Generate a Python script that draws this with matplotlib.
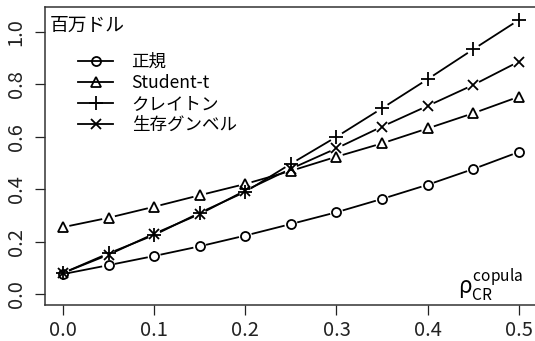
import numpy as np
import matplotlib
matplotlib.use("Agg")
import matplotlib.pyplot as plt
from matplotlib.lines import Line2D

plt.rcParams['font.family'] = ['Noto Sans CJK JP', 'DejaVu Sans']
plt.rcParams['mathtext.fontset'] = 'custom'
plt.rcParams['mathtext.rm'] = 'Noto Sans CJK JP'
plt.rcParams['mathtext.it'] = 'Noto Sans CJK JP'

rho = [0.0, 0.05, 0.1, 0.15, 0.2, 0.25, 0.3, 0.35, 0.4, 0.45, 0.5]
normal = [0.076, 0.110, 0.145, 0.182, 0.223, 0.267, 0.312, 0.363, 0.417, 0.477, 0.542]
student_t = [0.255, 0.291, 0.333, 0.377, 0.420, 0.470, 0.524, 0.575, 0.632, 0.690, 0.753]
clayton = [0.080, 0.155, 0.225, 0.310, 0.390, 0.497, 0.600, 0.709, 0.820, 0.934, 1.046]
gumbel = [0.080, 0.150, 0.230, 0.305, 0.395, 0.478, 0.556, 0.639, 0.718, 0.798, 0.887]
labels = ["正規", "Student-t", "クレイトン", "生存グンベル"]
xticks = [0.0, 0.1, 0.2, 0.3, 0.4, 0.5]
yticks = [0.0, 0.2, 0.4, 0.6, 0.8, 1.0]
unit_label = "百万ドル"

W, H = 535, 341
fig = plt.figure(figsize=(W / 100, H / 100), dpi=100)
AX_L, AX_R, AX_T, AX_B = 45, 540, 7, 305
ax = fig.add_axes([AX_L / W, 1 - AX_B / H, (AX_R - AX_L) / W, (AX_B - AX_T) / H])
ax.set_xlim(-0.0197, 0.5232)
ax.set_ylim(-0.042, 1.0955)

for s in ['left', 'bottom', 'top']:
    ax.spines[s].set_linewidth(1.1)
    ax.spines[s].set_color('#333333')
ax.spines['right'].set_visible(False)

ax.set_xticks(xticks)
ax.set_xticklabels([f"{v:.1f}" for v in xticks])
ax.set_yticks(yticks)
ax.set_yticklabels([f"{v:.1f}" for v in yticks], rotation=90, va='center')
ax.tick_params(axis='x', direction='out', length=7, width=0.9, pad=4, labelsize=14.5, colors='#222222')
ax.tick_params(axis='y', direction='out', length=7.2, width=0.9, pad=6, labelsize=14.5, colors='#222222')

styles = [
    dict(marker='o', ms=6.5, mfc='none'),
    dict(marker='^', ms=7.5, mfc='none'),
    dict(marker='+', ms=10),
    dict(marker='x', ms=6.5),
]
series = [normal, student_t, clayton, gumbel]

def gapped(x, y, gap_px, **kw):
    pts = ax.transData.transform(np.column_stack([x, y]))
    inv = ax.transData.inverted()
    for p0, p1 in zip(pts[:-1], pts[1:]):
        d = p1 - p0
        L = np.hypot(*d)
        if L <= 2 * gap_px:
            continue
        u = d / L
        a = inv.transform(p0 + u * gap_px)
        b = inv.transform(p1 - u * gap_px)
        ax.plot([a[0], b[0]], [a[1], b[1]], **kw)

handles = []
for ys, st, lab in zip(series, styles, labels):
    gapped(rho, ys, 6.5, color='black', lw=1.3, solid_capstyle='butt')
    ax.plot(rho, ys, linestyle='none', color='black', mec='black', mew=1.3, **st)
    handles.append(Line2D([], [], color='black', lw=1.3, mec='black', mew=1.3, **st))

leg = ax.legend(handles, labels, loc='upper left', bbox_to_anchor=(0.067, 0.846),
                frameon=False, fontsize=12.6, handlelength=2.0, handletextpad=1.05,
                labelspacing=0.17, borderaxespad=0, borderpad=0)

ax.text((50 - AX_L) / (AX_R - AX_L), 0.94, unit_label,
        transform=ax.transAxes, fontsize=13.5, ha='left', va='center')

ax.text(0.433, -0.036, r"$\rho_{\mathrm{CR}}^{\mathrm{copula}}$", fontsize=16,
        ha='left', va='bottom')

fig.savefig("out.png", dpi=100)
